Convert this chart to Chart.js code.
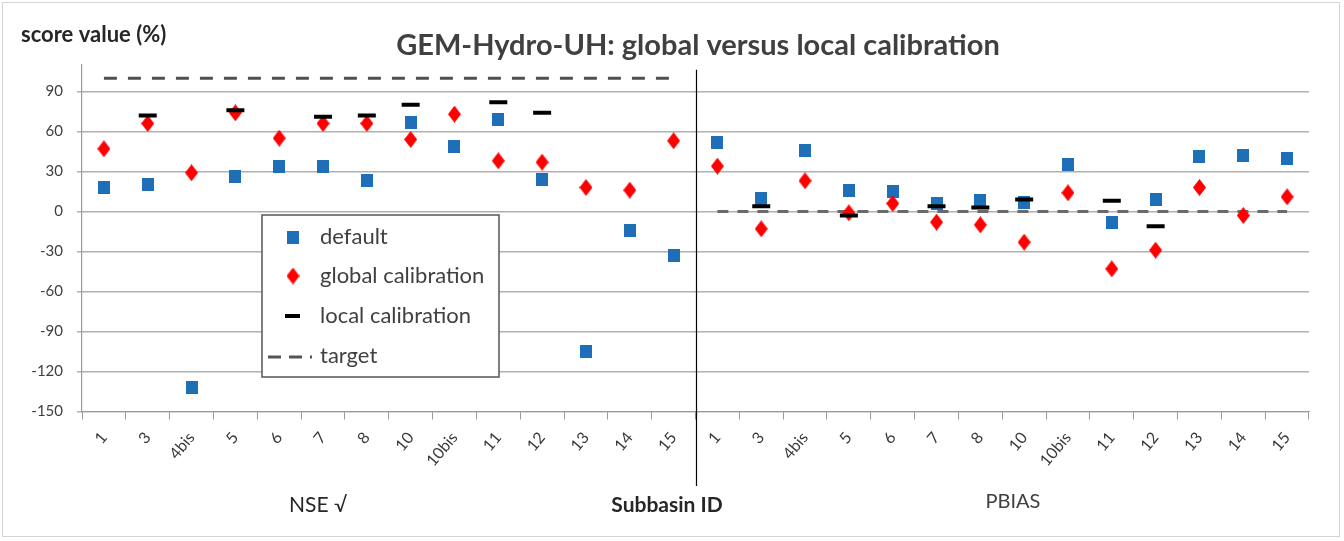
<!DOCTYPE html>
<html><head><meta charset="utf-8">
<script src="https://cdn.jsdelivr.net/npm/chart.js@4/dist/chart.umd.min.js"></script>
<style>
html,body{margin:0;padding:0;background:#fff;}
#wrap{position:absolute;left:0;top:0;width:1344px;height:541px;}
#frame{position:absolute;left:2px;top:2px;width:1338px;height:535px;border:1px solid #d4d4d4;box-sizing:border-box;}
canvas{position:absolute;left:0;top:0;}
</style></head><body>
<div id="wrap"><div id="frame"></div><canvas id="c" width="1344" height="541"></canvas></div>
<script>
// ---- data ----
const categories = ['1','3','4bis','5','6','7','8','10','10bis','11','12','13','14','15',
                    '1','3','4bis','5','6','7','8','10','10bis','11','12','13','14','15'];
const nseDefault   = [18, 20, -132, 26, 34, 34, 23, 67, 49, 69, 24, -105, -14, -33];
const nseGlobal    = [47, 66, 29, 74, 55, 66, 66, 54, 73, 38, 37, 18, 16, 53];
const nseLocal     = [null, 72, null, 76, null, 71, 72, 80, null, 82, 74, null, null, null];
const nseTarget    = [100, 100, 100, 100, 100, 100, 100, 100, 100, 100, 100, 100, 100, 100];
const pbiasDefault = [52, 10, 46, 16, 15, 6, 8, 7, 35, -8, 9, 41, 42, 40];
const pbiasGlobal  = [34, -13, 23, -1, 6, -8, -10, -23, 14, -43, -29, 18, -3, 11];
const pbiasLocal   = [null, 4, null, -3, null, 4, 3, 9, null, 8, -11, null, null, null];
const pbiasTarget  = [0, 0, 0, 0, 0, 0, 0, 0, 0, 0, 0, 0, 0, 0];
const yTicks = [-150, -120, -90, -60, -30, 0, 30, 60, 90];
const empty = [null, null, null, null, null, null, null, null, null, null, null, null, null, null];
const titleText = 'GEM-Hydro-UH: global versus local calibration';

const FONT = 'Lato, "Open Sans", sans-serif';
const BLUE = '#1f6fb8', RED = '#ff0000';

function makeSquare(){ const c=document.createElement('canvas'); c.width=12; c.height=13; const x=c.getContext('2d'); x.fillStyle=BLUE; x.fillRect(0,0,12,13); return c; }
function makeDiamond(){ const c=document.createElement('canvas'); c.width=13; c.height=17; const x=c.getContext('2d'); x.fillStyle=RED; x.beginPath(); x.moveTo(6.5,0); x.lineTo(13,8.5); x.lineTo(6.5,17); x.lineTo(0,8.5); x.closePath(); x.fill(); return c; }
const sq = makeSquare(), di = makeDiamond();

const extras = {
  id: 'extras',
  afterDatasetsDraw(chart){
    const ctx = chart.ctx, xs = chart.scales.x, ca = chart.chartArea;
    // separator
    const sx = Math.round((xs.getPixelForValue(13) + xs.getPixelForValue(14)) / 2) + 0.5;
    ctx.save();
    ctx.strokeStyle = '#000'; ctx.lineWidth = 1.2;
    ctx.beginPath(); ctx.moveTo(sx, ca.top + 5); ctx.lineTo(sx, 486); ctx.stroke();
    // title
    ctx.font = 'bold 29px ' + FONT; ctx.fillStyle = '#404040'; ctx.textBaseline = 'middle'; ctx.textAlign = 'center';
    ctx.fillText(titleText, 698, 46);
    // legend box
    const lx = 262, ly = 215, lw = 237, lh = 162;
    ctx.fillStyle = '#fff'; ctx.fillRect(lx, ly, lw, lh);
    ctx.strokeStyle = '#555'; ctx.lineWidth = 1.5; ctx.strokeRect(lx, ly, lw, lh);
    ctx.font = '22px ' + FONT; ctx.fillStyle = '#404040'; ctx.textAlign = 'left';
    const ds = chart.data.datasets;
    const rows = [ds[0].label, ds[1].label, ds[2].label, ds[3].label];
    const ys = [237, 276, 316, 356];
    ctx.drawImage(sq, 287, ys[0] - 6.5);
    ctx.drawImage(di, 286.5, ys[1] - 8.5);
    ctx.fillStyle = '#000'; ctx.fillRect(285, ys[2] - 2, 15, 4);
    ctx.strokeStyle = '#555'; ctx.lineWidth = 3; ctx.setLineDash([13, 8]);
    ctx.beginPath(); ctx.moveTo(268, ys[3] + 1); ctx.lineTo(312, ys[3] + 1); ctx.stroke(); ctx.setLineDash([]);
    ctx.fillStyle = '#404040';
    rows.forEach((t, i) => ctx.fillText(t, 320, ys[i]));
    // top-left axis title
    ctx.font = 'bold 22px ' + FONT; ctx.fillStyle = '#262626';
    ctx.fillText('score value (%)', 21, 35);
    // bottom labels
    ctx.textAlign = 'center';
    ctx.font = '21px ' + FONT; ctx.fillStyle = '#262626';
    ctx.fillText('NSE \u221A', 318, 505);
    ctx.font = '20px ' + FONT; ctx.fillStyle = '#404040';
    ctx.fillText('PBIAS', 1013, 502);
    ctx.font = 'bold 21px ' + FONT; ctx.fillStyle = '#262626';
    ctx.fillText('Subbasin ID', 667, 505);
    ctx.restore();
  }
};

new Chart(document.getElementById('c'), {
  type: 'line',
  data: {
    labels: categories,
    datasets: [
      { label: 'default', data: nseDefault.concat(pbiasDefault), showLine: false, pointStyle: sq, pointRadius: 7, order: 2 },
      { label: 'global calibration', data: nseGlobal.concat(pbiasGlobal), showLine: false, pointStyle: di, pointRadius: 8, order: 1 },
      { label: 'local calibration', data: nseLocal.concat(pbiasLocal), showLine: false, pointStyle: 'line', pointRadius: 9, pointBorderWidth: 4, borderColor: '#000', pointBorderColor: '#000', order: 0 },
      { label: 'target', data: nseTarget.concat(empty), pointRadius: 0, borderColor: '#505050', borderWidth: 3, borderDash: [13, 11], spanGaps: false, order: 3 },
      { label: 'target', data: empty.concat(pbiasTarget), pointRadius: 0, borderColor: '#6a6a6a', borderWidth: 3, borderDash: [11, 9], spanGaps: false, order: 3 }
    ]
  },
  options: {
    responsive: false, animation: false,
    layout: { padding: { left: 0, right: 35, top: 64.8, bottom: 0 } },
    plugins: {
      legend: { display: false }, tooltip: { enabled: false }, title: { display: false }
    },
    scales: {
      x: {
        type: 'category', offset: true,
        grid: { display: true, drawOnChartArea: false, drawTicks: true, tickLength: 8, color: '#9a9a9a', offset: true },
        border: { display: true, color: '#9a9a9a' },
        ticks: { autoSkip: false, maxRotation: 50, minRotation: 50, padding: 9, color: '#3a3a3a', font: { family: FONT, size: 16 } },
        afterFit(s){ s.height = 541 - 411.5; }
      },
      y: {
        min: -150, max: 110,
        afterBuildTicks(s){ s.ticks = yTicks.map(v => ({ value: v })); },
        grid: { color: '#b0b0b0', lineWidth: 1.5, tickLength: 5, drawTicks: true },
        border: { display: true, color: '#9a9a9a', width: 1.2 },
        ticks: { padding: 14, color: '#404040', font: { family: FONT, size: 15 } },
        afterFit(s){ s.width = 82; }
      }
    }
  },
  plugins: [extras]
});
</script>
</body></html>
